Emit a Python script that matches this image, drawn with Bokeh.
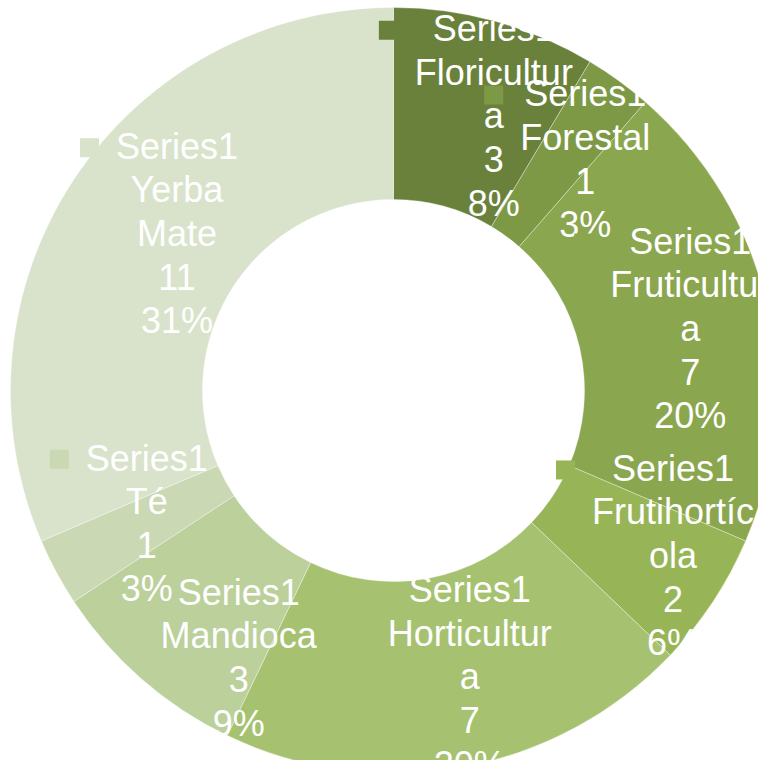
import math
from bokeh.plotting import figure
from bokeh.models import Range1d
from bokeh.core.properties import value
from bokeh.embed import file_html
from bokeh.resources import INLINE

# ---------------- data ----------------
series_name = "Series1"
categories = ["Floricultura", "Forestal", "Fruticultura", "Frutihortícola",
              "Horticultura", "Mandioca", "Té", "Yerba Mate"]
category_lines = ["Floricultur\na", "Forestal", "Fruticultur\na", "Frutihortíc\nola",
                  "Horticultur\na", "Mandioca", "Té", "Yerba\nMate"]
values = [3, 1, 7, 2, 7, 3, 1, 11]
percent_labels = ["8%", "3%", "20%", "6%", "20%", "9%", "3%", "31%"]
colors = ["#6A813B", "#7D9946", "#8AA64E", "#97B556",
          "#A6C270", "#BBD09A", "#CAD9B3", "#D9E3CB"]

# ---------------- layout ----------------
W, H = 758, 760
CX, CY = 393, 390
R_OUT, R_IN, R_LAB = 383, 191, 287
FONT_PX = 36
LINE_H = 1.065
FONT_EXTENT = 1.117        # ascent + descent of Liberation Sans, in em
KEY_SIZE, KEY_GAP = 19, 17
# per-label nudges (x right, y up), in pixels
label_nudge = [(24, -2), (23, -1), (17, -2), (40, -7), (25, -4), (34, -51), (6, 3), (23, -1)]

# Arial / Liberation Sans advance widths (per 1000 em)
ADV = {"S": 667, "e": 556, "r": 333, "i": 222, "s": 500, "1": 556, "F": 611, "l": 222,
       "o": 556, "c": 500, "u": 556, "t": 278, "a": 556, "h": 556, "í": 278, "H": 722,
       "M": 833, "n": 556, "d": 556, "T": 611, "é": 556, "Y": 667, "b": 556, "%": 889}


def text_width(s):
    return sum(ADV.get(ch, 556) for ch in s) * FONT_PX / 1000.0


p = figure(width=W, height=H, output_backend="svg", toolbar_location=None,
           x_axis_type=None, y_axis_type=None,
           x_range=Range1d(-CX, W - CX), y_range=Range1d(-(H - CY), CY),
           min_border=0, outline_line_color=None,
           background_fill_color="white", border_fill_color="white")
p.grid.visible = False

total = float(sum(values))
cum = 0.0
starts, ends, mids = [], [], []
for v in values:
    a0 = cum / total * 2 * math.pi
    cum += v
    a1 = cum / total * 2 * math.pi
    starts.append(math.pi / 2 - a0)
    ends.append(math.pi / 2 - a1)
    mids.append((a0 + a1) / 2)

p.annular_wedge(x=[0] * len(values), y=[0] * len(values),
                inner_radius=R_IN, outer_radius=R_OUT,
                start_angle=starts, end_angle=ends, direction="clock",
                fill_color=colors, line_color="white", line_alpha=0.35, line_width=1)

line_px = FONT_PX * FONT_EXTENT * LINE_H
for i, cat in enumerate(categories):
    lines = [series_name] + category_lines[i].split("\n") + [str(values[i]), percent_labels[i]]
    th = mids[i]
    lx = R_LAB * math.sin(th) + label_nudge[i][0]
    ly = R_LAB * math.cos(th) + label_nudge[i][1]
    n = len(lines)
    maxw = max(text_width(s) for s in lines)
    kx = lx - maxw / 2 - KEY_GAP - KEY_SIZE / 2
    ky = ly + (n - 1) / 2 * line_px
    p.rect(x=[kx], y=[ky], width=KEY_SIZE, height=KEY_SIZE,
           fill_color=colors[i], line_color=None)
    p.text(x=[lx], y=[ly], text=["\n".join(lines)],
           text_align="center", text_baseline="middle",
           text_font=value("Liberation Sans"), text_font_size=f"{FONT_PX}px",
           text_color="white", text_line_height=LINE_H)

open("out.html", "w").write(file_html(p, INLINE))
